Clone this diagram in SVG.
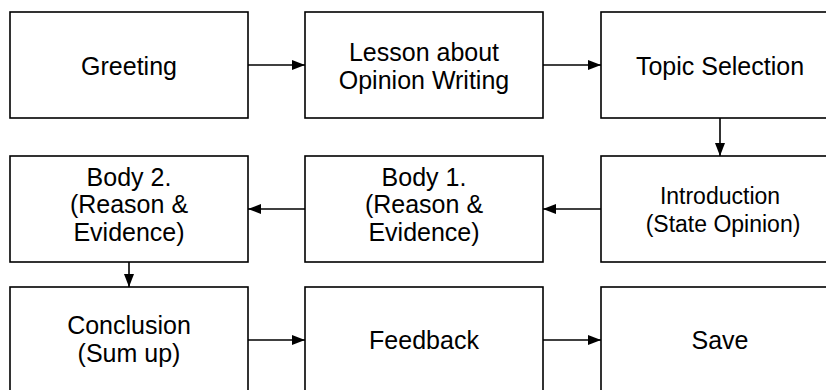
<svg xmlns="http://www.w3.org/2000/svg" width="826" height="390" viewBox="0 0 826 390">
  <defs>
    <style>
      .box { fill: #ffffff; stroke: #000000; stroke-width: 1.6; }
      .t { font-family: "Liberation Sans", Arial, sans-serif; font-size: 25px; fill: #000000; text-anchor: middle; }
      .s { font-size: 23px; }
      .c { fill: none; stroke: #000000; stroke-width: 1.6; }
    </style>
    <marker id="ah" markerUnits="userSpaceOnUse" markerWidth="13" markerHeight="10" viewBox="0 0 13 10" refX="13" refY="5" orient="auto">
      <polygon points="0,0 13,5 0,10" fill="#000000"/>
    </marker>
  </defs>
  <rect width="826" height="390" fill="#ffffff"/>

  <g id="greeting">
    <rect class="box" x="10" y="12" width="238" height="106"/>
    <text class="t" x="129" y="75">Greeting</text>
  </g>
  <g id="lesson">
    <rect class="box" x="305" y="12" width="238" height="106"/>
    <text class="t" x="424" y="61">Lesson about</text>
    <text class="t" x="424" y="89">Opinion Writing</text>
  </g>
  <g id="topic">
    <rect class="box" x="601" y="12" width="238" height="106"/>
    <text class="t" x="720" y="75">Topic Selection</text>
  </g>

  <g id="body2">
    <rect class="box" x="10" y="156" width="238" height="106"/>
    <text class="t" x="129" y="186">Body 2.</text>
    <text class="t" x="129" y="213">(Reason &amp;</text>
    <text class="t" x="129" y="241">Evidence)</text>
  </g>
  <g id="body1">
    <rect class="box" x="305" y="156" width="238" height="106"/>
    <text class="t" x="424" y="186">Body 1.</text>
    <text class="t" x="424" y="213">(Reason &amp;</text>
    <text class="t" x="424" y="241">Evidence)</text>
  </g>
  <g id="introduction">
    <rect class="box" x="601" y="156" width="238" height="106"/>
    <text class="t s" x="720" y="204">Introduction</text>
    <text class="t s" x="723" y="232">(State Opinion)</text>
  </g>

  <g id="conclusion">
    <rect class="box" x="10" y="287" width="238" height="106"/>
    <text class="t" x="129" y="334">Conclusion</text>
    <text class="t" x="129" y="362">(Sum up)</text>
  </g>
  <g id="feedback">
    <rect class="box" x="305" y="287" width="238" height="106"/>
    <text class="t" x="424" y="349">Feedback</text>
  </g>
  <g id="save">
    <rect class="box" x="601" y="287" width="238" height="106"/>
    <text class="t" x="720" y="349">Save</text>
  </g>

  <g id="connectors">
    <path class="c" d="M248,65 H305" marker-end="url(#ah)"/>
    <path class="c" d="M543,65 H601" marker-end="url(#ah)"/>
    <path class="c" d="M720,118 V156" marker-end="url(#ah)"/>
    <path class="c" d="M601,209 H543" marker-end="url(#ah)"/>
    <path class="c" d="M305,209 H248" marker-end="url(#ah)"/>
    <path class="c" d="M129,262 V287" marker-end="url(#ah)"/>
    <path class="c" d="M248,340 H305" marker-end="url(#ah)"/>
    <path class="c" d="M543,340 H601" marker-end="url(#ah)"/>
  </g>
</svg>
